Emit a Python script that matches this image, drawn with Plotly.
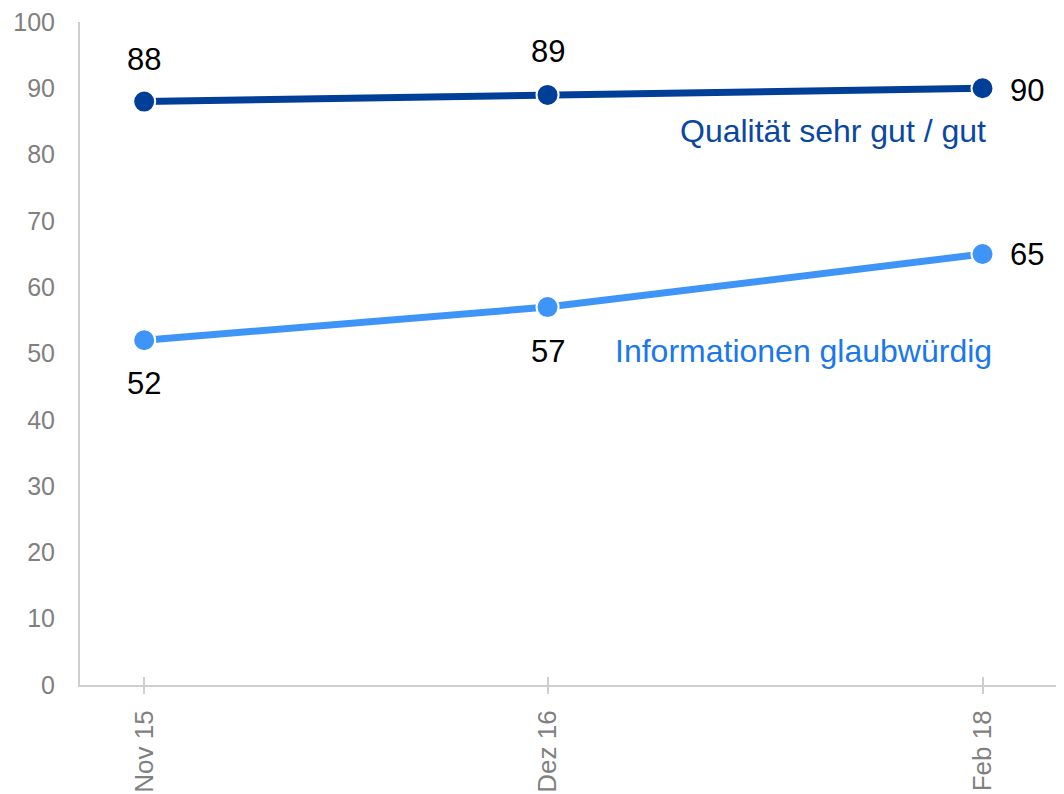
import plotly.graph_objects as go

dates = ["2015-11-01", "2016-12-01", "2018-02-01"]
tick_labels = ["Nov 15", "Dez 16", "Feb 18"]
qualitaet = [88, 89, 90]
glaubwuerdig = [52, 57, 65]
name_q = "Qualität sehr gut / gut"
name_g = "Informationen glaubwürdig"

dark = "#003f98"
light = "#3f95f7"
xrange = ["2015-08-30", "2018-04-22"]

fig = go.Figure()
fig.add_trace(go.Scatter(x=dates, y=qualitaet, mode="lines+markers", name=name_q,
                         line=dict(color=dark, width=7),
                         marker=dict(size=22, color=dark, line=dict(color="white", width=2))))
fig.add_trace(go.Scatter(x=dates, y=glaubwuerdig, mode="lines+markers", name=name_g,
                         line=dict(color=light, width=7),
                         marker=dict(size=22, color=light, line=dict(color="white", width=2))))

lab_font = dict(family="Liberation Sans, Arial", size=31, color="black")
q_shifts = [(0, 42), (0, 43), (44, -2)]
g_shifts = [(0, -43), (0, -44), (44, 0)]
for d, v, (xs, ys) in zip(dates, qualitaet, q_shifts):
    fig.add_annotation(x=d, y=v, text=str(v), showarrow=False, xshift=xs, yshift=ys, font=lab_font)
for d, v, (xs, ys) in zip(dates, glaubwuerdig, g_shifts):
    fig.add_annotation(x=d, y=v, text=str(v), showarrow=False, xshift=xs, yshift=ys, font=lab_font)

fig.add_annotation(x=dates[-1], y=83.5, text=name_q, showarrow=False, xanchor="right", xshift=5,
                   font=dict(family="Liberation Sans, Arial", size=32, color="#0a47a3"))
fig.add_annotation(x=dates[-1], y=50.4, text=name_g, showarrow=False, xanchor="right", xshift=11,
                   font=dict(family="Liberation Sans, Arial", size=32, color="#1a78ec"))

fig.update_layout(
    width=1056, height=786,
    margin=dict(l=72, r=0, t=10, b=109),
    paper_bgcolor="white", plot_bgcolor="white",
    showlegend=False,
    xaxis=dict(type="date", range=xrange,
               tickvals=dates, ticktext=tick_labels, tickangle=-90,
               showline=True, linecolor="#cfcfcf", linewidth=2,
               ticks="outside", ticklen=7, tickcolor="#cfcfcf", tickwidth=2,
               ticklabelstandoff=6, ticklabeloverflow="allow",
               showgrid=False, zeroline=False,
               tickfont=dict(family="Liberation Sans, Arial", size=26, color="#808080")),
    yaxis=dict(range=[0, 100], tickvals=list(range(0, 101, 10)),
               showline=True, linecolor="#cfcfcf", linewidth=2,
               showgrid=False, zeroline=False, ticks="",
               ticklabelstandoff=18, ticklabeloverflow="allow",
               tickfont=dict(family="Liberation Sans, Arial", size=25, color="#808080")),
)
# inner half of the cross ticks
fig.add_trace(go.Scatter(x=dates, y=[0, 0, 0], xaxis="x2", yaxis="y", mode="markers",
                         marker=dict(size=0.1, opacity=0), hoverinfo="skip", showlegend=False))
fig.update_layout(xaxis2=dict(type="date", range=xrange, overlaying="x",
                              anchor="y", side="bottom", tickvals=dates, ticktext=["", "", ""],
                              ticks="inside", ticklen=8, tickcolor="#cfcfcf", tickwidth=2,
                              showgrid=False, zeroline=False, showline=False))

fig.write_html("out.html")
